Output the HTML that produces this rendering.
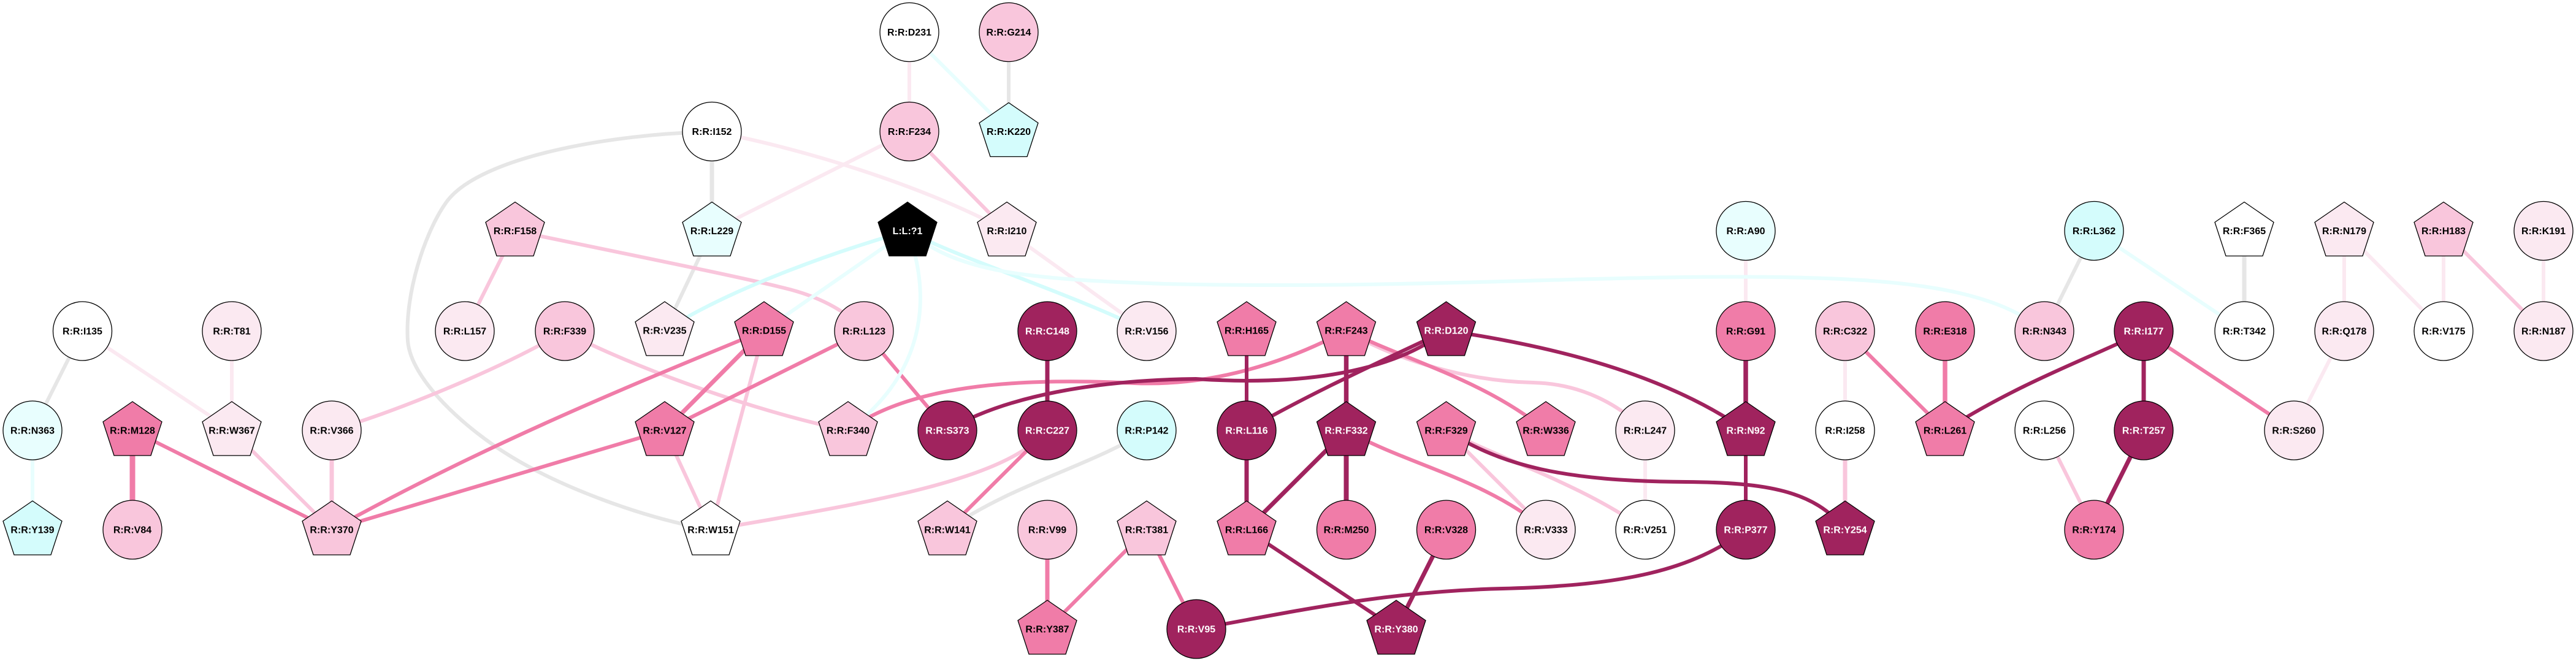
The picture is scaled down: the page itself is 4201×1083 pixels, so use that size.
<!DOCTYPE html>
<html>
<head>
<meta charset="utf-8">
<style>
html,body{margin:0;padding:0;background:#fff;}
svg{display:block;}
text{font-family:"Liberation Sans",Arial,sans-serif;font-weight:bold;font-size:16px;text-anchor:middle;}
.g{stroke:#e6e6e6;}
.vl{stroke:#fbe9f1;}
.lp{stroke:#f9c6dc;}
.mp{stroke:#f07ca8;}
.dk{stroke:#a0235e;}
.c1{stroke:#d4fcfc;}
.c2{stroke:#e8fefe;}
line,path{fill:none;stroke-width:6;stroke-linecap:butt;}
.n{stroke:#000;stroke-width:1.3;}
</style>
</head>
<body>
<svg width="4201" height="1083" viewBox="0 0 4201 1083" xmlns="http://www.w3.org/2000/svg">
<rect width="4201" height="1083" fill="#fff"/>
<g id="edges">
<!-- gray -->
<line class="g" x1="134.5" y1="540" x2="53" y2="702"/>
<line class="g" x1="1161" y1="214.5" x2="1161" y2="376.5" style="stroke-width:7"/>
<line class="g" x1="1161" y1="376.5" x2="1084" y2="539"/>
<line class="g" x1="1645" y1="52.5" x2="1645" y2="214.5"/>
<line class="g" x1="3415" y1="376.5" x2="3334" y2="540"/>
<line class="g" x1="3660" y1="376.5" x2="3660" y2="540" style="stroke-width:7"/>
<path class="g" d="M1161,215 C1000,218 780,255 727,331 C692,381 660,480 665,556 C670,620 760,700 834,745 C920,797 1050,845 1159,864"/>
<path class="g" d="M1870,702 C1780,760 1650,790 1545,864"/>
<!-- very light pink -->
<line class="vl" x1="134.5" y1="540" x2="378" y2="702"/>
<line class="vl" x1="378" y1="540" x2="378" y2="702"/>
<line class="vl" x1="1483" y1="52.5" x2="1483" y2="214.5"/>
<line class="vl" x1="1483" y1="214.5" x2="1161" y2="376.5"/>
<line class="vl" x1="1642" y1="376.5" x2="1870" y2="540"/>
<line class="vl" x1="3009" y1="540" x2="3009" y2="702"/>
<line class="vl" x1="2847" y1="376.5" x2="2847" y2="540"/>
<line class="vl" x1="2683" y1="702" x2="2683" y2="864"/>
<line class="vl" x1="3823" y1="540" x2="3741" y2="702"/>
<line class="vl" x1="3823" y1="376.5" x2="3823" y2="540"/>
<line class="vl" x1="3823" y1="376.5" x2="3985" y2="540"/>
<line class="vl" x1="3985" y1="376.5" x2="3985" y2="540"/>
<line class="vl" x1="4148" y1="376.5" x2="4148" y2="540"/>
<path class="vl" d="M1161,214.5 C1300,240 1500,300 1642,376.5"/>
<!-- light pink -->
<line class="lp" x1="378" y1="702" x2="541" y2="864"/>
<line class="lp" x1="541" y1="702" x2="541" y2="864" style="stroke-width:7"/>
<line class="lp" x1="840" y1="376.5" x2="758" y2="540"/>
<line class="lp" x1="1246" y1="539" x2="1159" y2="864"/>
<line class="lp" x1="1084" y1="702" x2="1159" y2="864"/>
<line class="lp" x1="1483" y1="214.5" x2="1642" y2="376.5"/>
<line class="lp" x1="2358.5" y1="702" x2="2521" y2="864"/>
<line class="lp" x1="3009" y1="702" x2="3009" y2="864" style="stroke-width:7"/>
<line class="lp" x1="3334" y1="702" x2="3415" y2="864"/>
<line class="lp" x1="3985" y1="376.5" x2="4148" y2="540"/>
<path class="lp" d="M840,376.5 C1000,410 1200,450 1280,470 C1330,482 1380,505 1409,540"/>
<path class="lp" d="M921,540 C1000,585 1220,670 1383,702"/>
<path class="lp" d="M921,540 C820,600 650,670 541,702"/>
<path class="lp" d="M1708,702 C1640,780 1450,815 1159,864"/>
<path class="lp" d="M2195.5,539 C2280,590 2400,622 2500,624 C2580,626 2640,660 2683,702"/>
<path class="lp" d="M2358.5,702 C2450,750 2580,790 2683,864"/>
<!-- medium pink -->
<line class="mp" x1="216" y1="702" x2="216" y2="864" style="stroke-width:9"/>
<line class="mp" x1="216" y1="702" x2="541" y2="864"/>
<line class="mp" x1="1246" y1="539" x2="1084" y2="702" style="stroke-width:7"/>
<line class="mp" x1="1084" y1="702" x2="541" y2="864"/>
<line class="mp" x1="1409" y1="540" x2="1084" y2="702"/>
<line class="mp" x1="1409" y1="540" x2="1545" y2="702"/>
<line class="mp" x1="1708" y1="702" x2="1545" y2="864"/>
<line class="mp" x1="1708" y1="864" x2="1708" y2="1026" style="stroke-width:7"/>
<line class="mp" x1="1870" y1="864" x2="1708" y2="1026"/>
<line class="mp" x1="1870" y1="864" x2="1951" y2="1026"/>
<line class="mp" x1="3009" y1="540" x2="3172" y2="702"/>
<line class="mp" x1="3172" y1="540" x2="3172" y2="702" style="stroke-width:7.5"/>
<line class="mp" x1="3496" y1="540" x2="3741" y2="702"/>
<path class="mp" d="M1246,539 C1050,620 800,720 541,864"/>
<path class="mp" d="M1383,702 C1480,630 1650,615 1850,625 C1980,630 2100,590 2195.5,539"/>
<path class="mp" d="M2195.5,539 C2300,590 2420,620 2521,702"/>
<path class="mp" d="M2195.5,702 C2300,760 2420,780 2521,864"/>
<!-- dark -->
<line class="dk" x1="1708" y1="540" x2="1708" y2="702" style="stroke-width:7"/>
<line class="dk" x1="2033" y1="539" x2="2033" y2="702"/>
<line class="dk" x1="2033" y1="702" x2="2033" y2="864" style="stroke-width:7"/>
<line class="dk" x1="2033" y1="864" x2="2195.5" y2="702" style="stroke-width:7"/>
<line class="dk" x1="2033" y1="864" x2="2277" y2="1026"/>
<line class="dk" x1="2195.5" y1="539" x2="2195.5" y2="702" style="stroke-width:7.5"/>
<line class="dk" x1="2195.5" y1="702" x2="2195.5" y2="864" style="stroke-width:8"/>
<line class="dk" x1="2358.5" y1="864" x2="2277" y2="1026" style="stroke-width:7"/>
<line class="dk" x1="2847" y1="540" x2="2847" y2="702" style="stroke-width:7.5"/>
<line class="dk" x1="2847" y1="702" x2="2847" y2="864"/>
<line class="dk" x1="3496" y1="540" x2="3496" y2="702" style="stroke-width:7"/>
<line class="dk" x1="3496" y1="702" x2="3415" y2="864" style="stroke-width:7"/>
<path class="dk" d="M1545,702 C1640,645 1790,620 1950,618 C2100,628 2260,615 2358.5,539"/>
<path class="dk" d="M2033,702 C2120,650 2250,590 2358.5,539"/>
<path class="dk" d="M2358.5,539 C2500,560 2700,600 2847,702"/>
<path class="dk" d="M2358.5,702 C2450,760 2550,785 2750,786 C2880,787 2960,800 3009,864"/>
<path class="dk" d="M1951,1026 C2100,1000 2250,965 2450,960 C2650,955 2760,930 2847,864"/>
<path class="dk" d="M3496,540 C3420,580 3300,620 3172,702"/>
<!-- cyan -->
<line class="c2" x1="53" y1="702" x2="53" y2="864"/>
<line class="c2" x1="1483" y1="52.5" x2="1645" y2="214.5"/>
<line class="c2" x1="1480" y1="376.5" x2="1246" y2="539"/>
<line class="c2" x1="3415" y1="376.5" x2="3660" y2="540"/>
<path class="c1" d="M1480,376.5 C1380,405 1200,465 1084,539"/>
<path class="c2" d="M1480,376.5 C1515,470 1520,600 1383,702"/>
<path class="c1" d="M1480,376.5 C1560,420 1750,480 1870,540"/>
<path class="c2" d="M1480,376.5 C1560,440 1650,455 1900,463 C2300,472 2600,448 2900,452 C3100,455 3250,470 3334,540"/>
</g>

<g id="nodes">
<!-- Row 0 -->
<circle class="n" cx="1483" cy="52.5" r="48" fill="#ffffff"/><text x="1483" y="58">R:R:D231</text>
<circle class="n" cx="1645" cy="52.5" r="48" fill="#f9c6dc"/><text x="1645" y="58">R:R:G214</text>
<!-- Row 1 -->
<circle class="n" cx="1161" cy="214.5" r="48" fill="#ffffff"/><text x="1161" y="220">R:R:I152</text>
<circle class="n" cx="1483" cy="214.5" r="48" fill="#f9c6dc"/><text x="1483" y="220">R:R:F234</text>
<polygon class="n" transform="translate(1645,214.5)" points="0,-47 48,-14 30,41 -30,41 -48,-14" fill="#d4fcfc"/><text x="1645" y="220">R:R:K220</text>
<!-- Row 2 -->
<polygon class="n" transform="translate(840,376.5)" points="0,-47 48,-14 30,41 -30,41 -48,-14" fill="#f9c6dc"/><text x="840" y="382">R:R:F158</text>
<polygon class="n" transform="translate(1161,376.5)" points="0,-47 48,-14 30,41 -30,41 -48,-14" fill="#e8fefe"/><text x="1161" y="382">R:R:L229</text>
<polygon class="n" transform="translate(1480,376.5)" points="0,-47 48,-14 30,41 -30,41 -48,-14" fill="#000000"/><text x="1480" y="382" fill="#ffffff">L:L:?1</text>
<polygon class="n" transform="translate(1642,376.5)" points="0,-47 48,-14 30,41 -30,41 -48,-14" fill="#fbe9f1"/><text x="1642" y="382">R:R:I210</text>
<circle class="n" cx="2847" cy="376.5" r="48" fill="#e8fefe"/><text x="2847" y="382">R:R:A90</text>
<circle class="n" cx="3415" cy="376.5" r="48" fill="#d4fcfc"/><text x="3415" y="382">R:R:L362</text>
<polygon class="n" transform="translate(3660,376.5)" points="0,-47 48,-14 30,41 -30,41 -48,-14" fill="#ffffff"/><text x="3660" y="382">R:R:F365</text>
<polygon class="n" transform="translate(3823,376.5)" points="0,-47 48,-14 30,41 -30,41 -48,-14" fill="#fbe9f1"/><text x="3823" y="382">R:R:N179</text>
<polygon class="n" transform="translate(3985,376.5)" points="0,-47 48,-14 30,41 -30,41 -48,-14" fill="#f9c6dc"/><text x="3985" y="382">R:R:H183</text>
<circle class="n" cx="4148" cy="376.5" r="48" fill="#fbe9f1"/><text x="4148" y="382">R:R:K191</text>
<!-- Row 3 -->
<circle class="n" cx="134.5" cy="540" r="48" fill="#ffffff"/><text x="134.5" y="545.5">R:R:I135</text>
<circle class="n" cx="378" cy="540" r="48" fill="#fbe9f1"/><text x="378" y="545.5">R:R:T81</text>
<circle class="n" cx="758" cy="540" r="48" fill="#fbe9f1"/><text x="758" y="545.5">R:R:L157</text>
<circle class="n" cx="921" cy="540" r="48" fill="#f9c6dc"/><text x="921" y="545.5">R:R:F339</text>
<polygon class="n" transform="translate(1084,539)" points="0,-47 48,-14 30,41 -30,41 -48,-14" fill="#fbe9f1"/><text x="1084" y="544.5">R:R:V235</text>
<polygon class="n" transform="translate(1246,539)" points="0,-47 48,-14 30,41 -30,41 -48,-14" fill="#f07ca8"/><text x="1246" y="544.5">R:R:D155</text>
<circle class="n" cx="1409" cy="540" r="48" fill="#f9c6dc"/><text x="1409" y="545.5">R:R:L123</text>
<circle class="n" cx="1708" cy="540" r="48" fill="#a0235e"/><text x="1708" y="545.5" fill="#ffffff">R:R:C148</text>
<circle class="n" cx="1870" cy="540" r="48" fill="#fbe9f1"/><text x="1870" y="545.5">R:R:V156</text>
<polygon class="n" transform="translate(2033,539)" points="0,-47 48,-14 30,41 -30,41 -48,-14" fill="#f07ca8"/><text x="2033" y="544.5">R:R:H165</text>
<polygon class="n" transform="translate(2195.5,539)" points="0,-47 48,-14 30,41 -30,41 -48,-14" fill="#f07ca8"/><text x="2195.5" y="544.5">R:R:F243</text>
<polygon class="n" transform="translate(2358.5,539)" points="0,-47 48,-14 30,41 -30,41 -48,-14" fill="#a0235e"/><text x="2358.5" y="544.5" fill="#ffffff">R:R:D120</text>
<circle class="n" cx="2847" cy="540" r="48" fill="#f07ca8"/><text x="2847" y="545.5">R:R:G91</text>
<circle class="n" cx="3009" cy="540" r="48" fill="#f9c6dc"/><text x="3009" y="545.5">R:R:C322</text>
<circle class="n" cx="3172" cy="540" r="48" fill="#f07ca8"/><text x="3172" y="545.5">R:R:E318</text>
<circle class="n" cx="3334" cy="540" r="48" fill="#f9c6dc"/><text x="3334" y="545.5">R:R:N343</text>
<circle class="n" cx="3496" cy="540" r="48" fill="#a0235e"/><text x="3496" y="545.5" fill="#ffffff">R:R:I177</text>
<circle class="n" cx="3660" cy="540" r="48" fill="#ffffff"/><text x="3660" y="545.5">R:R:T342</text>
<circle class="n" cx="3823" cy="540" r="48" fill="#fbe9f1"/><text x="3823" y="545.5">R:R:Q178</text>
<circle class="n" cx="3985" cy="540" r="48" fill="#ffffff"/><text x="3985" y="545.5">R:R:V175</text>
<circle class="n" cx="4148" cy="540" r="48" fill="#fbe9f1"/><text x="4148" y="545.5">R:R:N187</text>
<!-- Row 4 -->
<circle class="n" cx="53" cy="702" r="48" fill="#e8fefe"/><text x="53" y="707.5">R:R:N363</text>
<polygon class="n" transform="translate(216,702)" points="0,-47 48,-14 30,41 -30,41 -48,-14" fill="#f07ca8"/><text x="216" y="707.5">R:R:M128</text>
<polygon class="n" transform="translate(378,702)" points="0,-47 48,-14 30,41 -30,41 -48,-14" fill="#fbe9f1"/><text x="378" y="707.5">R:R:W367</text>
<circle class="n" cx="541" cy="702" r="48" fill="#fbe9f1"/><text x="541" y="707.5">R:R:V366</text>
<polygon class="n" transform="translate(1084,702)" points="0,-47 48,-14 30,41 -30,41 -48,-14" fill="#f07ca8"/><text x="1084" y="707.5">R:R:V127</text>
<polygon class="n" transform="translate(1383,702)" points="0,-47 48,-14 30,41 -30,41 -48,-14" fill="#f9c6dc"/><text x="1383" y="707.5">R:R:F340</text>
<circle class="n" cx="1545" cy="702" r="48" fill="#a0235e"/><text x="1545" y="707.5" fill="#ffffff">R:R:S373</text>
<circle class="n" cx="1708" cy="702" r="48" fill="#a0235e"/><text x="1708" y="707.5" fill="#ffffff">R:R:C227</text>
<circle class="n" cx="1870" cy="702" r="48" fill="#d4fcfc"/><text x="1870" y="707.5">R:R:P142</text>
<circle class="n" cx="2033" cy="702" r="48" fill="#a0235e"/><text x="2033" y="707.5" fill="#ffffff">R:R:L116</text>
<polygon class="n" transform="translate(2195.5,702)" points="0,-47 48,-14 30,41 -30,41 -48,-14" fill="#a0235e"/><text x="2195.5" y="707.5" fill="#ffffff">R:R:F332</text>
<polygon class="n" transform="translate(2358.5,702)" points="0,-47 48,-14 30,41 -30,41 -48,-14" fill="#f07ca8"/><text x="2358.5" y="707.5">R:R:F329</text>
<polygon class="n" transform="translate(2521,702)" points="0,-47 48,-14 30,41 -30,41 -48,-14" fill="#f07ca8"/><text x="2521" y="707.5">R:R:W336</text>
<circle class="n" cx="2683" cy="702" r="48" fill="#fbe9f1"/><text x="2683" y="707.5">R:R:L247</text>
<polygon class="n" transform="translate(2847,702)" points="0,-47 48,-14 30,41 -30,41 -48,-14" fill="#a0235e"/><text x="2847" y="707.5" fill="#ffffff">R:R:N92</text>
<circle class="n" cx="3009" cy="702" r="48" fill="#ffffff"/><text x="3009" y="707.5">R:R:I258</text>
<polygon class="n" transform="translate(3172,702)" points="0,-47 48,-14 30,41 -30,41 -48,-14" fill="#f07ca8"/><text x="3172" y="707.5">R:R:L261</text>
<circle class="n" cx="3334" cy="702" r="48" fill="#ffffff"/><text x="3334" y="707.5">R:R:L256</text>
<circle class="n" cx="3496" cy="702" r="48" fill="#a0235e"/><text x="3496" y="707.5" fill="#ffffff">R:R:T257</text>
<circle class="n" cx="3741" cy="702" r="48" fill="#fbe9f1"/><text x="3741" y="707.5">R:R:S260</text>
<!-- Row 5 -->
<polygon class="n" transform="translate(53,864)" points="0,-47 48,-14 30,41 -30,41 -48,-14" fill="#d4fcfc"/><text x="53" y="869.5">R:R:Y139</text>
<circle class="n" cx="216" cy="864" r="48" fill="#f9c6dc"/><text x="216" y="869.5">R:R:V84</text>
<polygon class="n" transform="translate(541,864)" points="0,-47 48,-14 30,41 -30,41 -48,-14" fill="#f9c6dc"/><text x="541" y="869.5">R:R:Y370</text>
<polygon class="n" transform="translate(1159,864)" points="0,-47 48,-14 30,41 -30,41 -48,-14" fill="#ffffff"/><text x="1159" y="869.5">R:R:W151</text>
<polygon class="n" transform="translate(1545,864)" points="0,-47 48,-14 30,41 -30,41 -48,-14" fill="#f9c6dc"/><text x="1545" y="869.5">R:R:W141</text>
<circle class="n" cx="1708" cy="864" r="48" fill="#f9c6dc"/><text x="1708" y="869.5">R:R:V99</text>
<polygon class="n" transform="translate(1870,864)" points="0,-47 48,-14 30,41 -30,41 -48,-14" fill="#f9c6dc"/><text x="1870" y="869.5">R:R:T381</text>
<polygon class="n" transform="translate(2033,864)" points="0,-47 48,-14 30,41 -30,41 -48,-14" fill="#f07ca8"/><text x="2033" y="869.5">R:R:L166</text>
<circle class="n" cx="2195.5" cy="864" r="48" fill="#f07ca8"/><text x="2195.5" y="869.5">R:R:M250</text>
<circle class="n" cx="2358.5" cy="864" r="48" fill="#f07ca8"/><text x="2358.5" y="869.5">R:R:V328</text>
<circle class="n" cx="2521" cy="864" r="48" fill="#fbe9f1"/><text x="2521" y="869.5">R:R:V333</text>
<circle class="n" cx="2683" cy="864" r="48" fill="#ffffff"/><text x="2683" y="869.5">R:R:V251</text>
<circle class="n" cx="2847" cy="864" r="48" fill="#a0235e"/><text x="2847" y="869.5" fill="#ffffff">R:R:P377</text>
<polygon class="n" transform="translate(3009,864)" points="0,-47 48,-14 30,41 -30,41 -48,-14" fill="#a0235e"/><text x="3009" y="869.5" fill="#ffffff">R:R:Y254</text>
<circle class="n" cx="3415" cy="864" r="48" fill="#f07ca8"/><text x="3415" y="869.5">R:R:Y174</text>
<!-- Row 6 -->
<polygon class="n" transform="translate(1708,1026)" points="0,-47 48,-14 30,41 -30,41 -48,-14" fill="#f07ca8"/><text x="1708" y="1031.5">R:R:Y387</text>
<circle class="n" cx="1951" cy="1026" r="48" fill="#a0235e"/><text x="1951" y="1031.5" fill="#ffffff">R:R:V95</text>
<polygon class="n" transform="translate(2277,1026)" points="0,-47 48,-14 30,41 -30,41 -48,-14" fill="#a0235e"/><text x="2277" y="1031.5" fill="#ffffff">R:R:Y380</text>
</g>
</svg>
</body>
</html>
